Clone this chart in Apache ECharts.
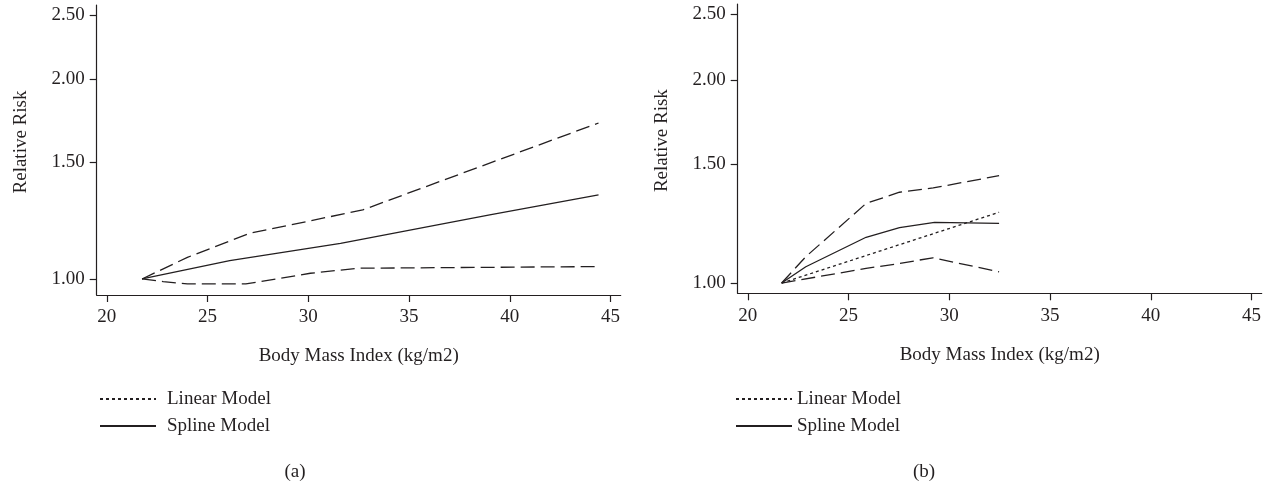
<!DOCTYPE html>
<html>
<head>
<meta charset="utf-8">
<script src="https://cdn.jsdelivr.net/npm/echarts@6/dist/echarts.min.js"></script>
<style>
  html, body { margin: 0; padding: 0; background: #fff; }
  #chart { width: 1272px; height: 481px; }
</style>
</head>
<body>
<div id="chart"></div>
<script>
// tick values
const xTicks = [20, 25, 30, 35, 40, 45];
const yTicks = [1.0, 1.5, 2.0, 2.5];

// panel (a): all BMI (kg/m2) levels
const aSplineBmi = [21.75, 26.1, 31.6, 39.0, 44.4];
const aSplineRR = [1.0, 1.066, 1.132, 1.249, 1.339];
const aUpperBmi = [21.75, 24.0, 27.1, 32.7, 44.4];
const aUpperRR = [1.0, 1.078, 1.172, 1.271, 1.719];
const aLowerBmi = [21.75, 22.8, 24.0, 26.9, 30.1, 32.5, 44.4];
const aLowerRR = [1.0, 0.991, 0.983, 0.983, 1.02, 1.038, 1.044];

// panel (b): BMI range 21.7 - 32.5
const bSplineBmi = [21.68, 22.88, 25.87, 27.53, 29.27, 32.47];
const bSplineRR = [1.0, 1.057, 1.169, 1.208, 1.230, 1.226];
const bUpperBmi = [21.68, 22.88, 25.87, 27.53, 29.2, 32.47];
const bUpperRR = [1.0, 1.094, 1.312, 1.363, 1.383, 1.442];
const bLowerBmi = [21.68, 25.87, 27.53, 29.18, 32.47];
const bLowerRR = [1.0, 1.051, 1.069, 1.090, 1.039];
const bLinearBmi = [21.68, 32.47];
const bLinearRR = [1.0, 1.273];

const FONT = "'Liberation Serif', 'DejaVu Serif', serif";
const FS = 19;
const INK = "#231f20";

function pairs(xs, ys) {
  return xs.map((x, i) => [x, Math.log(ys[i])]);
}

function xAxisFor(gridIndex) {
  return {
    type: "value",
    gridIndex: gridIndex,
    min: 19.5,
    max: 45.5,
    name: "Body Mass Index (kg/m2)",
    nameLocation: "middle",
    nameGap: 52,
    nameTextStyle: { fontFamily: FONT, fontSize: FS, color: INK },
    axisLine: { onZero: false, lineStyle: { color: INK, width: 1.2 } },
    axisTick: { customValues: xTicks, length: 7, lineStyle: { color: INK, width: 1.2 } },
    axisLabel: {
      customValues: xTicks,
      margin: 13,
      fontFamily: FONT,
      fontSize: FS,
      color: INK,
    },
    splitLine: { show: false },
  };
}

function yAxisFor(gridIndex, min) {
  const ticks = yTicks.map((v) => Math.log(v));
  return {
    type: "value",
    gridIndex: gridIndex,
    min: min,
    max: Math.log(2.59),
    name: "Relative Risk",
    nameLocation: "middle",
    nameGap: 66,
    nameTextStyle: { fontFamily: FONT, fontSize: FS, color: INK, padding: [0, 0, 0, 16] },
    axisLine: { show: true, onZero: false, lineStyle: { color: INK, width: 1.2 } },
    axisTick: { show: true, customValues: ticks, length: 7, lineStyle: { color: INK, width: 1.2 } },
    axisLabel: {
      customValues: ticks,
      margin: 12,
      fontFamily: FONT,
      fontSize: FS,
      color: INK,
      formatter: (v) => Math.exp(v).toFixed(2),
    },
    splitLine: { show: false },
  };
}

function lineSeries(name, idx, data, type) {
  return {
    name: name,
    type: "line",
    xAxisIndex: idx,
    yAxisIndex: idx,
    data: data,
    symbol: "none",
    smooth: false,
    silent: true,
    itemStyle: { color: INK },
    lineStyle: { color: INK, width: 1.3, type: type },
    z: 3,
  };
}

function legendFor(left, pad) {
  return {
    orient: "vertical",
    left: left,
    top: 389,
    padding: 0,
    itemWidth: 56,
    itemHeight: 20,
    itemGap: 7,
    selectedMode: false,
    itemStyle: { opacity: 0 },
    data: ["Linear Model", "Spline Model"],
    textStyle: {
      fontFamily: FONT,
      fontSize: FS,
      color: INK,
      lineHeight: 20,
      padding: [0, 0, 0, pad],
    },
  };
}

const chart = echarts.init(document.getElementById("chart"), null, { renderer: "canvas" });

chart.setOption({
  backgroundColor: "#ffffff",
  animation: false,
  title: [
    { text: "(a)", left: 295, top: 463, padding: 0, textAlign: "center",
      textStyle: { fontFamily: FONT, fontSize: FS, fontWeight: "normal", color: INK } },
    { text: "(b)", left: 924, top: 463, padding: 0, textAlign: "center",
      textStyle: { fontFamily: FONT, fontSize: FS, fontWeight: "normal", color: INK } },
  ],
  legend: [legendFor(99, 6), legendFor(735, 0)],
  grid: [
    { left: 96.7, right: 651.3, top: 5, bottom: 186, containLabel: false },
    { left: 737.7, right: 10.3, top: 4, bottom: 187.7, containLabel: false },
  ],
  xAxis: [xAxisFor(0), xAxisFor(1)],
  yAxis: [yAxisFor(0, -0.0557), yAxisFor(1, -0.035)],
  series: [
    lineSeries("Upper CI (a)", 0, pairs(aUpperBmi, aUpperRR), [14, 6]),
    lineSeries("Lower CI (a)", 0, pairs(aLowerBmi, aLowerRR), [14, 6]),
    lineSeries("Spline Model", 0, pairs(aSplineBmi, aSplineRR), "solid"),
    lineSeries("Upper CI (b)", 1, pairs(bUpperBmi, bUpperRR), [14, 6]),
    lineSeries("Lower CI (b)", 1, pairs(bLowerBmi, bLowerRR), [14, 6]),
    lineSeries("Linear Model", 1, pairs(bLinearBmi, bLinearRR), [3, 3]),
    lineSeries("Spline Model", 1, pairs(bSplineBmi, bSplineRR), "solid"),
  ],
});
</script>
</body>
</html>
